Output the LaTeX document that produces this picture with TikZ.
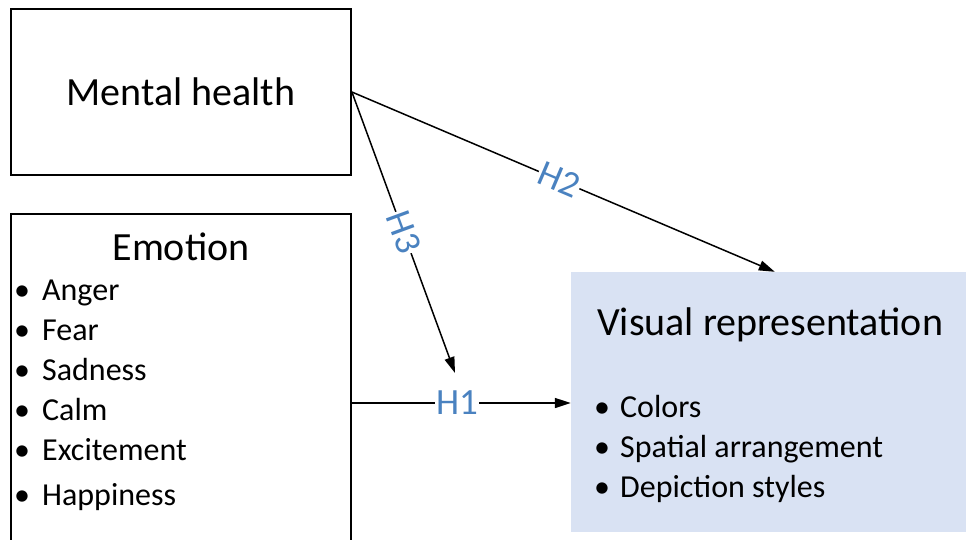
\documentclass[tikz,border=0pt]{standalone}
\usepackage{fontspec}
\setmainfont{Carlito}
\usetikzlibrary{arrows.meta,calc}
\definecolor{visfill}{HTML}{D9E2F3}
\definecolor{hblue}{HTML}{4A82C0}
\begin{document}
\begin{tikzpicture}[x=1pt,y=-1pt,
  box/.style={draw=black, line width=1.8pt, inner sep=0pt},
  big/.style={font=\fontsize{40}{48}\selectfont, inner sep=0pt},
  item/.style={font=\fontsize{32}{38}\selectfont, inner sep=0pt, anchor=base west},
  conn/.style={line width=1.5pt, -{Triangle[length=16pt,width=10pt]}},
  hlab/.style={font=\fontsize{37}{44}\selectfont, text=hblue, fill=white, inner sep=1pt, sloped}]
\useasboundingbox (0,0) rectangle (966,539);
\clip (0,0) rectangle (966,539);
% boxes
\node[box, big, minimum width=340pt, minimum height=166pt] (mh) at (181,92) {Mental health};
\node[box, minimum width=340pt, minimum height=378pt] (emo) at (181,403) {};
\node[fill=visfill, inner sep=0pt, minimum width=400pt, minimum height=260pt] (vis) at (771,402) {};
% texts
\node[big, anchor=base] (emot) at (181,260) {Emotion};
\node[item] (e1) at (14,300) {\makebox[28pt][l]{•}Anger};
\node[item] (e2) at (14,340) {\makebox[28pt][l]{•}Fear};
\node[item] (e3) at (14,380) {\makebox[28pt][l]{•}Sadness};
\node[item] (e4) at (14,420) {\makebox[28pt][l]{•}Calm};
\node[item] (e5) at (14,460) {\makebox[28pt][l]{•}Excitement};
\node[item] (e6) at (14,505) {\makebox[28pt][l]{•}Happiness};
\node[big, anchor=base west] (vist) at (597,335) {Visual representation};
\node[item] (v1) at (594,417) {\makebox[26pt][l]{•}Colors};
\node[item] (v2) at (594,457) {\makebox[26pt][l]{•}Spatial arrangement};
\node[item] (v3) at (594,497) {\makebox[26pt][l]{•}Depiction styles};
% connectors
\coordinate (h2end) at ($(vis.north west)+(204,0)$);
\coordinate (h3end) at (455,373);
\draw[conn] (mh.east) -- node[hlab, pos=0.49] {H2} (h2end);
\draw[conn] (mh.east) -- node[hlab, pos=0.5] {H3} (h3end);
\draw[conn] (emo.east) -- node[hlab, pos=0.48] {H1} (emo.east -| vis.west);
\end{tikzpicture}
\end{document}
